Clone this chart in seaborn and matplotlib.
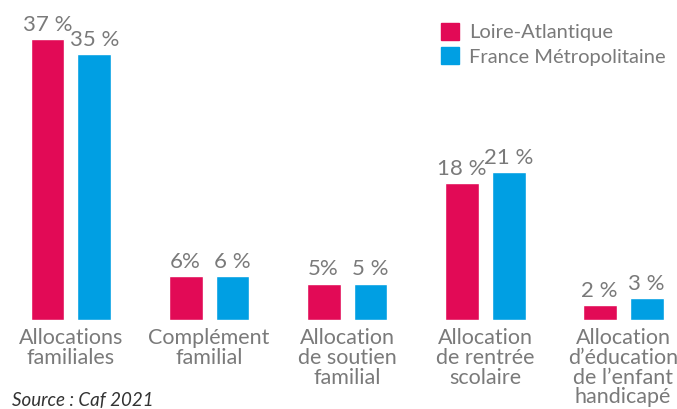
import matplotlib
matplotlib.use("Agg")
import matplotlib.pyplot as plt
import seaborn as sns
import pandas as pd
from matplotlib.patches import Patch

categories = ["Allocations\nfamiliales", "Complément\nfamilial", "Allocation\nde soutien\nfamilial",
              "Allocation\nde rentrée\nscolaire", "Allocation\nd’éducation\nde l’enfant\nhandicapé"]
loire = [37, 5.8, 4.8, 18, 2]
france = [35, 5.8, 4.8, 19.5, 2.9]
loire_labels = ["37 %", "6%", "5%", "18 %", "2 %"]
france_labels = ["35 %", "6 %", "5 %", "21 %", "3 %"]
series = ["Loire-Atlantique", "France Métropolitaine"]
colors = ["#E20A56", "#009FE3"]
source = "Source : Caf 2021"

sns.set_style("white")
plt.rcParams['font.family'] = ['Lato', 'DejaVu Sans']

df = pd.DataFrame({
    "cat": categories * 2,
    "val": loire + france,
    "serie": [series[0]] * 5 + [series[1]] * 5,
})

fig = plt.figure(figsize=(6.77, 4.09), dpi=100)
ax = fig.add_axes([0, 89 / 409, 1, 320 / 409])
sns.barplot(data=df, x="cat", y="val", hue="serie", palette=colors, width=0.68, gap=0.277,
            ax=ax, legend=False, saturation=1)
ax.set_xlim(-0.514, 4.39)
ax.set_ylim(0, 42.16)
for s in ax.spines.values():
    s.set_visible(False)
ax.set_yticks([])
ax.set_xlabel("")
ax.set_ylabel("")
gray = "#7a7a7a"
ax.tick_params(axis="x", length=0, pad=6, labelsize=15.5, labelcolor=gray)
for t in ax.get_xticklabels():
    t.set_linespacing(0.98)

for cont, labs in zip(ax.containers, [loire_labels, france_labels]):
    ax.bar_label(cont, labels=labs, padding=3, fontsize=16, color=gray)

handles = [Patch(color=c) for c in colors]
leg = fig.legend(handles, series, loc="upper left", bbox_to_anchor=(441 / 677, 1 - 23 / 409),
                 frameon=False, fontsize=14.5, handlelength=0.9, handleheight=0.9,
                 handletextpad=0.5, labelspacing=0.3, borderaxespad=0, borderpad=0)
for t in leg.get_texts():
    t.set_color(gray)

fig.text(12 / 677, 1 - 400 / 409, source, fontsize=13.5, style="italic", color="#333333",
         va="center", ha="left")

fig.savefig("out.png", dpi=100)
